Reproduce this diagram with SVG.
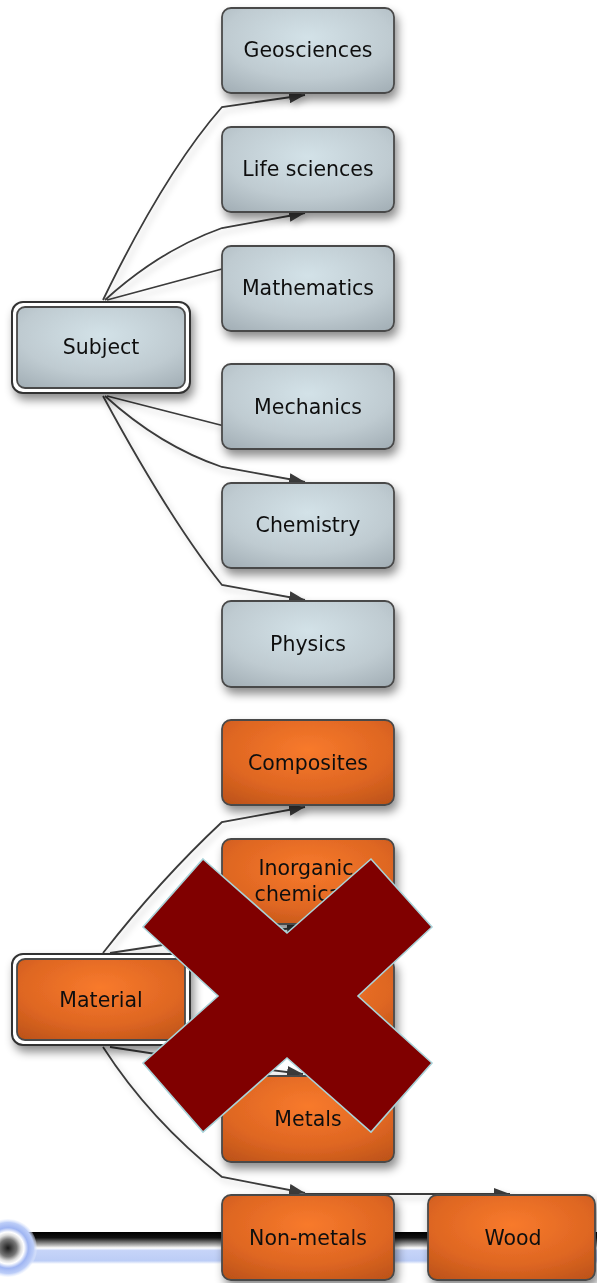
<svg xmlns="http://www.w3.org/2000/svg" width="597" height="1283" viewBox="0 0 597 1283">
<style>
.lbl{font-family:"DejaVu Sans","Liberation Sans",sans-serif;font-size:20.5px;fill:#111;text-anchor:middle}
.bn{fill:url(#gBlue);stroke:#4a4a4a;stroke-width:1.8}
.on{fill:url(#gOrange);stroke:#4a4a4a;stroke-width:1.8}
.ring{fill:#fff;stroke:#333;stroke-width:2}
.c{fill:none;stroke:#3a3a3a;stroke-width:1.8;marker-end:url(#arr)}
.cn{fill:none;stroke:#3a3a3a;stroke-width:1.8}
</style>
<defs>
<radialGradient id="gBlue" cx="0.5" cy="0.35" r="0.8">
<stop offset="0" stop-color="#d3e2e8"/>
<stop offset="0.6" stop-color="#bfcbd1"/>
<stop offset="1" stop-color="#a2aeb5"/>
</radialGradient>
<radialGradient id="gOrange" cx="0.5" cy="0.35" r="0.8">
<stop offset="0" stop-color="#f87a2c"/>
<stop offset="0.6" stop-color="#de6622"/>
<stop offset="1" stop-color="#bb5218"/>
</radialGradient>
<linearGradient id="gBar" x1="0" y1="0" x2="0" y2="1">
<stop offset="0" stop-color="#000"/>
<stop offset="0.18" stop-color="#111"/>
<stop offset="0.42" stop-color="#bbb"/>
<stop offset="0.5" stop-color="#fff"/>
<stop offset="0.58" stop-color="#c6d4f8"/>
<stop offset="0.9" stop-color="#bccdf6"/>
<stop offset="1" stop-color="#fff"/>
</linearGradient>
<radialGradient id="gDot" cx="0.5" cy="0.5" r="0.5">
<stop offset="0" stop-color="#1a1a1a"/>
<stop offset="0.3" stop-color="#777"/>
<stop offset="0.45" stop-color="#ddd"/>
<stop offset="0.55" stop-color="#fff"/>
<stop offset="0.7" stop-color="#9fb5f2"/>
<stop offset="0.88" stop-color="#bccdf8"/>
<stop offset="1" stop-color="#e6edfd" stop-opacity="0.3"/>
</radialGradient>
<filter id="sh" x="-20%" y="-20%" width="150%" height="160%">
<feDropShadow dx="3" dy="6" stdDeviation="5" flood-color="#000" flood-opacity="0.45"/>
</filter>
<filter id="lsh" x="-10%" y="-10%" width="130%" height="130%">
<feDropShadow dx="3" dy="4" stdDeviation="3" flood-color="#000" flood-opacity="0.2"/>
</filter>
<marker id="arr" viewBox="0 0 16 12" refX="16" refY="6" markerWidth="16" markerHeight="12" markerUnits="userSpaceOnUse" orient="auto">
<path d="M0,0 L16,6 L0,12 Z" fill="#3a3a3a"/>
</marker>
</defs>

<g id="bar">
<rect x="0" y="1232" width="597" height="32" fill="url(#gBar)"/>
<circle cx="8" cy="1248" r="29" fill="url(#gDot)"/>
</g>

<g id="connectors" filter="url(#lsh)">
<path class="c" d="M103,300 Q165,172 222,107 L305,95"/>
<path class="c" d="M105,300 Q160,250 222,228 L305,213"/>
<path class="c" d="M107,300 L222,269 L300,249"/>
<path class="cn" d="M107,396 L240,430"/>
<path class="c" d="M105,396 Q160,446 222,467 L305,482"/>
<path class="c" d="M103,396 Q170,520 222,585 L305,600"/>
<path class="c" d="M103,953 Q160,880 222,822 L305,807"/>
<path class="c" d="M110,953 L222,936 L303,927"/>
<path class="c" d="M110,1047 L222,1064 L303,1074"/>
<path class="c" d="M103,1047 Q150,1120 222,1177 L305,1193"/>
<path class="c" d="M305,1194 L510,1194"/>
</g>

<g id="geosciences" filter="url(#sh)"><rect class="bn" x="222" y="8" width="172" height="85" rx="9"/><text class="lbl" x="308" y="57">Geosciences</text></g>
<g id="life-sciences" filter="url(#sh)"><rect class="bn" x="222" y="127" width="172" height="85" rx="9"/><text class="lbl" x="308" y="176">Life sciences</text></g>
<g id="mathematics" filter="url(#sh)"><rect class="bn" x="222" y="246" width="172" height="85" rx="9"/><text class="lbl" x="308" y="295">Mathematics</text></g>
<g id="mechanics" filter="url(#sh)"><rect class="bn" x="222" y="364" width="172" height="85" rx="9"/><text class="lbl" x="308" y="414">Mechanics</text></g>
<g id="chemistry" filter="url(#sh)"><rect class="bn" x="222" y="483" width="172" height="85" rx="9"/><text class="lbl" x="308" y="532">Chemistry</text></g>
<g id="physics" filter="url(#sh)"><rect class="bn" x="222" y="601" width="172" height="86" rx="9"/><text class="lbl" x="308" y="651">Physics</text></g>

<g id="subject" filter="url(#sh)">
<rect class="ring" x="12" y="302" width="178" height="91" rx="11"/>
<rect class="bn" x="17" y="307" width="168" height="81" rx="8"/>
<text class="lbl" x="101" y="354">Subject</text>
</g>

<g id="composites" filter="url(#sh)"><rect class="on" x="222" y="720" width="172" height="85" rx="9"/><text class="lbl" x="308" y="770">Composites</text></g>
<g id="inorganic-chemicals" filter="url(#sh)"><rect class="on" x="222" y="839" width="172" height="85" rx="9"/><text class="lbl" x="306" y="875">Inorganic</text><text class="lbl" x="306" y="901">chemicals</text></g>
<g id="hidden-node" filter="url(#sh)"><rect class="on" x="222" y="958" width="172" height="85" rx="9"/></g>
<g id="metals" filter="url(#sh)"><rect class="on" x="222" y="1076" width="172" height="86" rx="9"/><text class="lbl" x="308" y="1126">Metals</text></g>
<g id="non-metals" filter="url(#sh)"><rect class="on" x="222" y="1195" width="172" height="85" rx="9"/><text class="lbl" x="308" y="1245">Non-metals</text></g>
<g id="wood" filter="url(#sh)"><rect class="on" x="428" y="1195" width="167" height="85" rx="9"/><text class="lbl" x="513" y="1245">Wood</text></g>

<g id="material" filter="url(#sh)">
<rect class="ring" x="12" y="954" width="178" height="91" rx="11"/>
<rect class="on" x="17" y="959" width="168" height="81" rx="8"/>
<text class="lbl" x="101" y="1007">Material</text>
</g>

<g id="cross">
<polygon points="203,859 287,933 371,859 432,927 358,996 432,1063 371,1132 287,1058 203,1132 143,1063 218,996 143,927" fill="#800000" stroke="#a9d3d9" stroke-width="1.6" stroke-linejoin="miter"/>
</g>
</svg>
